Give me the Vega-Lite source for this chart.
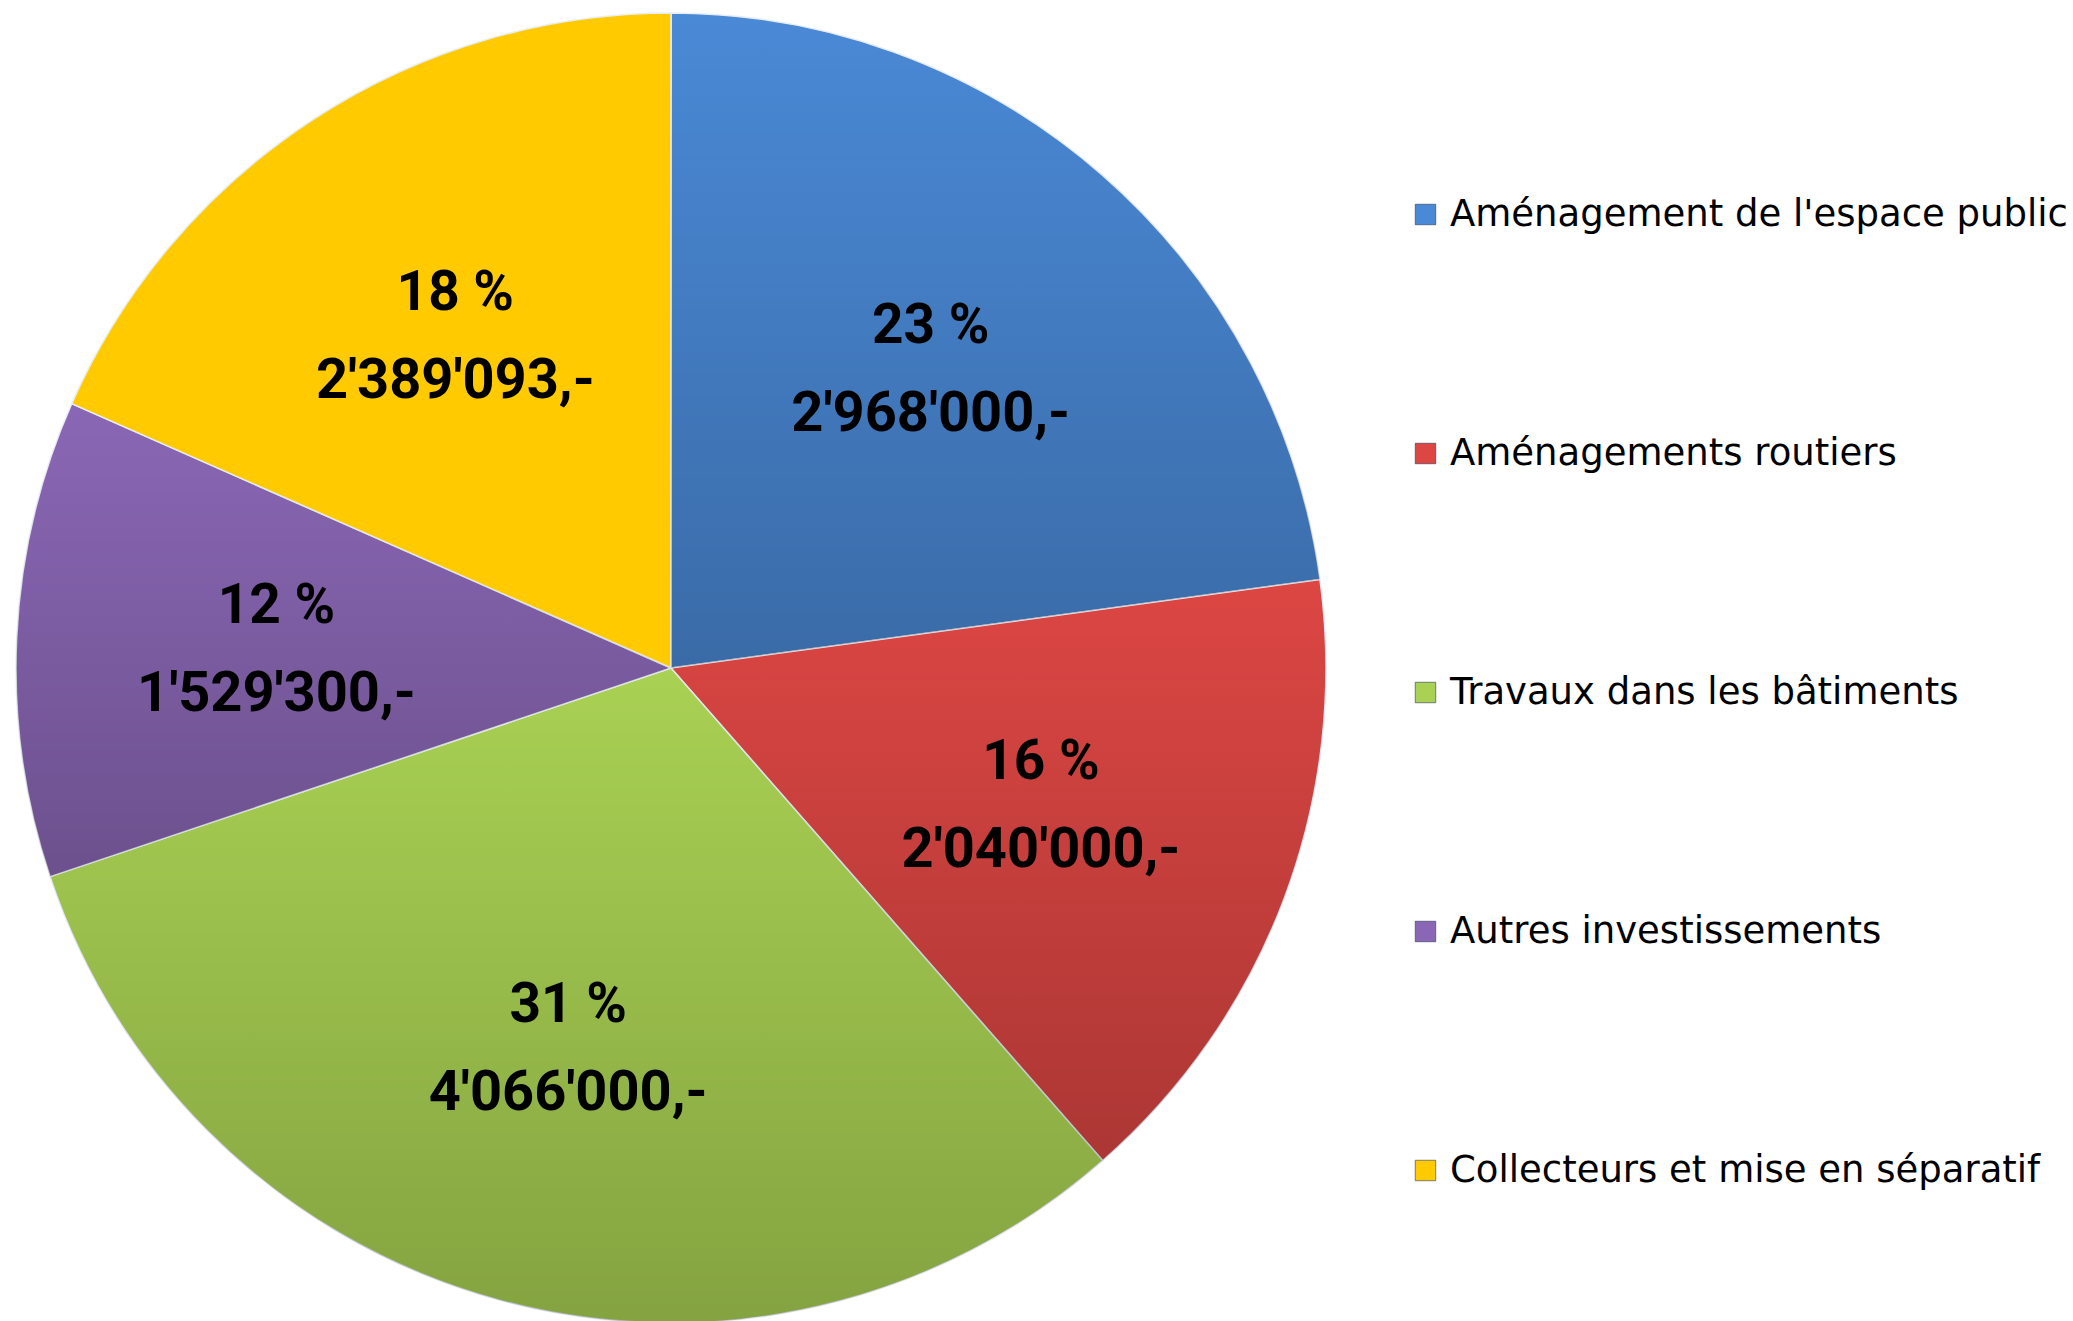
{
  "$schema": "https://vega.github.io/schema/vega-lite/v6.json",
  "width": 1342,
  "height": 1336,
  "padding": 0,
  "autosize": {"type": "pad"},
  "background": "white",
  "config": {"view": {"stroke": null}},
  "data": {
    "values": [
      {"cat": "Aménagement de l'espace public", "value": 2968000, "pct": "23 %", "label": "2'968'000,-", "ord": 1},
      {"cat": "Aménagements routiers", "value": 2040000, "pct": "16 %", "label": "2'040'000,-", "ord": 2},
      {"cat": "Travaux dans les bâtiments", "value": 4066000, "pct": "31 %", "label": "4'066'000,-", "ord": 3},
      {"cat": "Autres investissements", "value": 1529300, "pct": "12 %", "label": "1'529'300,-", "ord": 4},
      {"cat": "Collecteurs et mise en séparatif", "value": 2389093, "pct": "18 %", "label": "2'389'093,-", "ord": 5}
    ]
  },
  "layer": [
    {
      "mark": {"type": "arc", "outerRadius": 655, "stroke": "#e9eef5", "strokeWidth": 1.5},
      "encoding": {
        "theta": {"field": "value", "type": "quantitative", "stack": true},
        "order": {"field": "ord", "type": "quantitative"},
        "color": {
          "field": "cat",
          "type": "nominal",
          "scale": {
            "domain": ["Aménagement de l'espace public", "Aménagements routiers", "Travaux dans les bâtiments", "Autres investissements", "Collecteurs et mise en séparatif"],
            "range": ["#4a89d6", "#dc4643", "#a9d153", "#8a67b5", "#ffcb00"]
          },
          "legend": {
            "title": null,
            "orient": "none",
            "legendX": 1407,
            "legendY": 196,
            "padding": 0,
            "symbolType": "square",
            "symbolSize": 420,
            "symbolStrokeColor": "#2a3a55",
            "symbolStrokeWidth": 0.6,
            "labelFont": "DejaVu Sans",
            "labelFontSize": 37,
            "labelColor": "#000000",
            "labelOffset": 6,
            "labelLimit": 0,
            "rowPadding": 201
          }
        }
      }
    },
    {
      "mark": {
        "type": "arc",
        "outerRadius": 655,
        "fill": {
          "gradient": "linear",
          "x1": 0, "y1": 0, "x2": 0, "y2": 1,
          "stops": [
            {"offset": 0, "color": "rgba(0,0,0,0)"},
            {"offset": 1, "color": "rgba(0,0,0,0.22)"}
          ]
        }
      },
      "encoding": {
        "theta": {"field": "value", "type": "quantitative", "stack": true},
        "order": {"field": "ord", "type": "quantitative"},
        "fillOpacity": {
          "condition": {"test": "datum.ord === 5", "value": 0},
          "value": 1
        }
      }
    },
    {
      "mark": {"type": "text", "radius": 395, "dy": -44, "font": "Roboto", "fontWeight": "bold", "fontSize": 55, "color": "#000000", "baseline": "middle", "align": "center"},
      "encoding": {
        "theta": {"field": "value", "type": "quantitative", "stack": true},
        "order": {"field": "ord", "type": "quantitative"},
        "text": {"field": "pct", "type": "nominal"}
      }
    },
    {
      "mark": {"type": "text", "radius": 395, "dy": 44, "font": "Roboto", "fontWeight": "bold", "fontSize": 56, "color": "#000000", "baseline": "middle", "align": "center"},
      "encoding": {
        "theta": {"field": "value", "type": "quantitative", "stack": true},
        "order": {"field": "ord", "type": "quantitative"},
        "text": {"field": "label", "type": "nominal"}
      }
    }
  ]
}
